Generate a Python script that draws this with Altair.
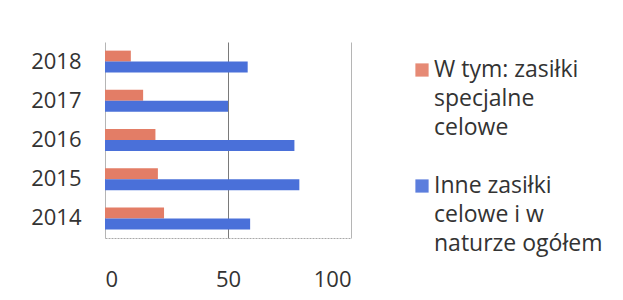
import altair as alt
import pandas as pd

years = ["2014", "2015", "2016", "2017", "2018"]
special = [24, 21.5, 20.5, 15.5, 10.5]
other = [59, 79, 77, 50, 58]
series_names = ["W tym: zasiłki specjalne celowe", "Inne zasiłki celowe i w naturze ogółem"]
legend_lines = [["W tym: zasiłki", "specjalne", "celowe"],
                ["Inne zasiłki", "celowe i w", "naturze ogółem"]]
colors = ["#E37D66", "#4A70D9"]
x_ticks = [0, 50, 100]

rows = []
for i, yr in enumerate(years):
    rows.append({"year": yr, "series": series_names[0], "value": special[i]})
    rows.append({"year": yr, "series": series_names[1], "value": other[i]})
df = pd.DataFrame(rows)

leg_rows = []
for s, lines in enumerate(legend_lines):
    for j, t in enumerate(lines):
        leg_rows.append({"series": series_names[s], "line": s * 4 + j, "text": t, "first": j == 0})
leg = pd.DataFrame(leg_rows)

FONT = "Open Sans"
TEXT = "#333333"
color_scale = alt.Scale(domain=series_names, range=colors)

bars = alt.Chart(df).mark_bar().encode(
    y=alt.Y("year:N", sort=list(reversed(years)), title=None,
            scale=alt.Scale(paddingInner=0.44, paddingOuter=0.22),
            axis=alt.Axis(ticks=False, domain=False, grid=False, labelPadding=24,
                          labelFontSize=22, labelColor=TEXT, labelFont=FONT)),
    yOffset=alt.YOffset("series:N", sort=series_names),
    x=alt.X("value:Q", scale=alt.Scale(domain=[0, 100]), title=None,
            axis=alt.Axis(values=x_ticks, ticks=False, labelPadding=31, labelFontSize=22,
                          labelColor=TEXT, labelFont=FONT, grid=True,
                          gridColor={"condition": {"test": "datum.value === 50", "value": "#7a7a7a"}, "value": "#b5b5b5"},
                          domainColor="#a8a8a8", domainDash=[2, 1])),
    color=alt.Color("series:N", scale=color_scale, legend=None),
).properties(width=246, height=196)

ysc = alt.Y("line:Q", scale=alt.Scale(domain=[-0.9655, 5.793], reverse=True), axis=None)
sym = alt.Chart(leg).transform_filter("datum.first").mark_square(size=175, opacity=0.9).encode(
    y=ysc, x=alt.value(61), color=alt.Color("series:N", scale=color_scale, legend=None))
txt = alt.Chart(leg).mark_text(align="left", baseline="middle", font=FONT, fontSize=23, color=TEXT).encode(
    y=ysc, x=alt.value(73), text="text:N")
legend_panel = (sym + txt).properties(width=220, height=196)

chart = alt.hconcat(bars, legend_panel, spacing=10).properties(
    padding={"left": 22, "top": 34, "right": 0, "bottom": 2}
).configure(background="white").configure_view(strokeWidth=0)

chart.save("out.html", embed_options={"renderer": "svg", "actions": False})
